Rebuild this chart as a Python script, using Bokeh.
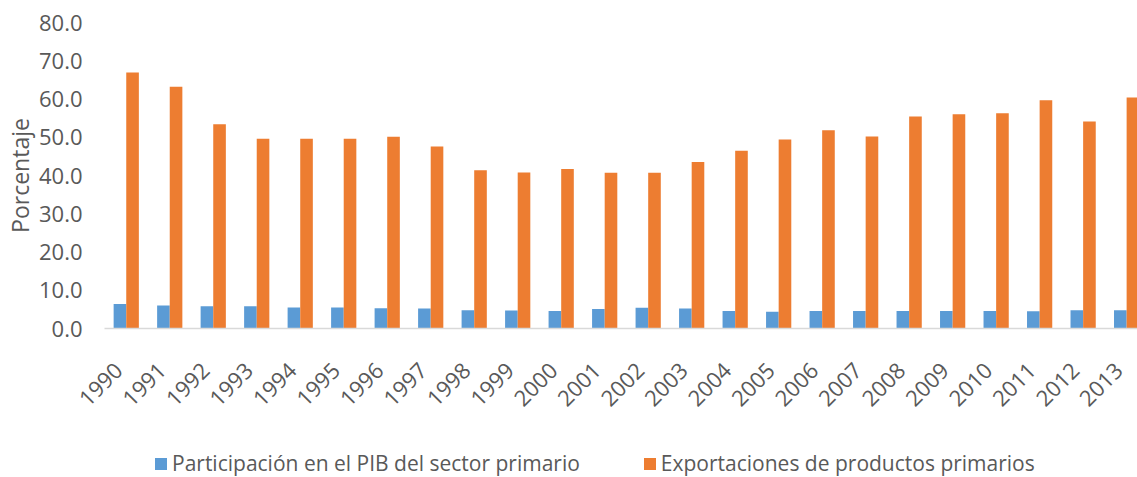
import numpy as np
from bokeh.plotting import figure
from bokeh.layouts import column
from bokeh.models import Range1d, FixedTicker, Legend, LegendItem, ColumnDataSource
from bokeh.embed import file_html
from bokeh.resources import INLINE

years = [str(y) for y in range(1990, 2014)]
pib_primario = [6.4, 6.0, 5.8, 5.8, 5.5, 5.5, 5.3, 5.2, 4.8, 4.7, 4.6, 5.1,
                5.4, 5.2, 4.6, 4.4, 4.6, 4.6, 4.6, 4.6, 4.6, 4.5, 4.8, 4.8]
export_primarios = [66.9, 63.2, 53.4, 49.6, 49.6, 49.6, 50.1, 47.6, 41.4, 40.8, 41.7, 40.7,
                    40.7, 43.5, 46.5, 49.4, 51.8, 50.2, 55.4, 56.0, 56.3, 59.7, 54.1, 60.4]
y_ticks = [0, 10, 20, 30, 40, 50, 60, 70, 80]
label_blue = "Participación en el PIB del sector primario"
label_orange = "Exportaciones de productos primarios"

BLUE = "#5B9BD5"
ORANGE = "#ED7D31"
TXT = "#595959"
FONT = "Open Sans"

idx = np.arange(len(years))
src = ColumnDataSource(dict(xb=idx - 0.145, xo=idx + 0.145,
                            pib=pib_primario, exp=export_primarios))

p = figure(width=1137, height=420, output_backend="svg", toolbar_location=None,
           x_range=Range1d(-0.5, 23.25), y_range=Range1d(0, 80),
           min_border_left=104, min_border_right=0, min_border_top=22, min_border_bottom=92)
p.outline_line_color = None
p.xgrid.grid_line_color = None
p.ygrid.grid_line_color = None

r1 = p.vbar(x="xb", top="pib", width=0.29, source=src, fill_color=BLUE, line_color=None)
r2 = p.vbar(x="xo", top="exp", width=0.29, source=src, fill_color=ORANGE, line_color=None)

# x axis (invisible ticks nudged left so the rotated labels end at the group centre)
label_pos = [round(float(i) - 0.18, 2) for i in idx]
p.xaxis.ticker = FixedTicker(ticks=label_pos)
p.xaxis.major_label_overrides = {t: y for t, y in zip(label_pos, years)}
p.xaxis.major_label_orientation = np.pi / 4
p.xaxis.major_label_text_font = FONT
p.xaxis.major_label_text_font_size = "22px"
p.xaxis.major_label_text_color = TXT
p.xaxis.major_label_standoff = 38
p.xaxis.major_tick_out = 0
p.xaxis.major_tick_in = 0
p.xaxis.major_tick_line_color = None
p.xaxis.minor_tick_line_color = None
p.xaxis.axis_line_color = "#D9D9D9"
p.xaxis.axis_line_width = 1.5

# y axis
p.yaxis.ticker = FixedTicker(ticks=y_ticks)
p.yaxis.major_label_overrides = {t: f"{t:.1f}" for t in y_ticks}
p.yaxis.major_label_text_font = FONT
p.yaxis.major_label_text_font_size = "22px"
p.yaxis.major_label_text_color = TXT
p.yaxis.major_label_standoff = 22
p.yaxis.major_tick_out = 0
p.yaxis.major_tick_in = 0
p.yaxis.major_tick_line_color = None
p.yaxis.minor_tick_line_color = None
p.yaxis.axis_line_color = None
p.yaxis.axis_label = "Porcentaje"
p.yaxis.axis_label_text_font = FONT
p.yaxis.axis_label_text_font_size = "23px"
p.yaxis.axis_label_text_font_style = "normal"
p.yaxis.axis_label_text_color = TXT
p.yaxis.axis_label_standoff = 0

# legend strip below the chart (bars drawn out of its visible range, only for legend swatches)
lg = figure(width=1137, height=57, output_backend="svg", toolbar_location=None,
            x_axis_type=None, y_axis_type=None,
            x_range=Range1d(1000, 1001), y_range=Range1d(1000, 1001),
            min_border_left=0, min_border_right=0, min_border_top=0, min_border_bottom=0)
lg.outline_line_color = None
lr1 = lg.vbar(x="xb", top="pib", width=0.29, source=src, fill_color=BLUE, line_color=None)
lr2 = lg.vbar(x="xo", top="exp", width=0.29, source=src, fill_color=ORANGE, line_color=None)

legend = Legend(items=[LegendItem(label=label_blue, renderers=[lr1]),
                       LegendItem(label=label_orange, renderers=[lr2])],
                orientation="horizontal", location=(49, 0),
                spacing=62, glyph_width=15, glyph_height=15, label_standoff=4,
                label_text_font=FONT, label_text_font_size="21px", label_text_color=TXT,
                border_line_color=None, background_fill_alpha=0, padding=0, margin=0)
lg.add_layout(legend, "center")

layout = column(p, lg, spacing=0)
open("out.html", "w").write(file_html(layout, INLINE))
